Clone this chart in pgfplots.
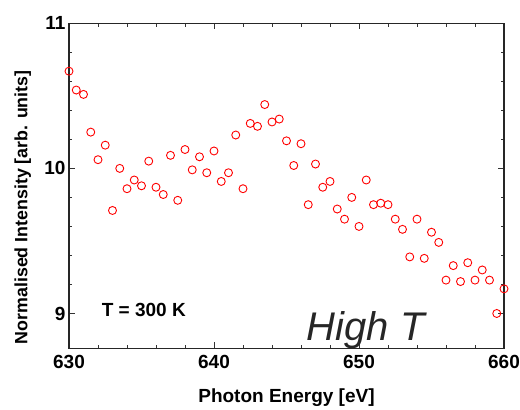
\documentclass[border=0pt]{standalone}
\usepackage{fontspec}
\setmainfont{Liberation Sans}
\usepackage{pgfplots}
\pgfplotsset{compat=1.18}
\begin{document}
\begin{tikzpicture}
\useasboundingbox (-69pt,-61.7pt) rectangle (451pt,348.3pt);
\begin{axis}[
  anchor=south west, at={(0,0)},
  scale only axis, width=435pt, height=325pt,
  xmin=630, xmax=660, ymin=8.76, ymax=11,
  xtick={630,640,650,660}, ytick={9,10,11},
  minor x tick num=4, minor y tick num=4,
  tick align=inside, major tick length=6pt, minor tick length=3.5pt,
  every tick/.style={black!80, line width=0.9pt},
  axis line style={black!85, line width=1.3pt},
  /pgf/number format/assume math mode=true,
  tick label style={font=\fontsize{19}{22}\selectfont\bfseries},
  xticklabel style={yshift=-3pt},
  label style={font=\fontsize{19}{22}\selectfont\bfseries},
  xlabel={Photon Energy [eV]},
  ylabel={Normalised Intensity [arb. units]},
  xlabel style={at={(axis description cs:0.5,-0.167)}, anchor=base},
  ylabel style={at={(axis description cs:-0.106,0.434)}, anchor=center,
    font=\fontsize{17.8}{21}\selectfont\bfseries},
  clip=false,
]
\addplot[only marks, mark=o, mark size=4pt, red, mark options={line width=0.9pt}] coordinates {
(630.0,10.67) (630.5,10.54) (631.0,10.51) (631.5,10.25) (632.0,10.06) (632.5,10.16)
(633.0,9.71) (633.5,10.00) (634.0,9.86) (634.5,9.92) (635.0,9.88) (635.5,10.05)
(636.0,9.87) (636.5,9.82) (637.0,10.09) (637.5,9.78) (638.0,10.13) (638.5,9.99)
(639.0,10.08) (639.5,9.97) (640.0,10.12) (640.5,9.91) (641.0,9.97) (641.5,10.23)
(642.0,9.86) (642.5,10.31) (643.0,10.29) (643.5,10.44) (644.0,10.32) (644.5,10.34)
(645.0,10.19) (645.5,10.02) (646.0,10.17) (646.5,9.75) (647.0,10.03) (647.5,9.87)
(648.0,9.91) (648.5,9.72) (649.0,9.65) (649.5,9.80) (650.0,9.60) (650.5,9.92)
(651.0,9.75) (651.5,9.76) (652.0,9.75) (652.5,9.65) (653.0,9.58) (653.5,9.39)
(654.0,9.65) (654.5,9.38) (655.0,9.56) (655.5,9.49) (656.0,9.23) (656.5,9.33)
(657.0,9.22) (657.5,9.35) (658.0,9.23) (658.5,9.30) (659.0,9.23) (659.5,9.00)
(660.0,9.17)
};
\node[anchor=base west, font=\fontsize{19}{22}\selectfont\bfseries, inner sep=0pt]
  at (rel axis cs:0.075,0.097) {T = 300 K};
\node[anchor=base west, font=\fontsize{40}{46}\selectfont\itshape, text=black!85, inner sep=0pt]
  at (rel axis cs:0.546,0.0255) {High T};
\end{axis}
\end{tikzpicture}
\end{document}
